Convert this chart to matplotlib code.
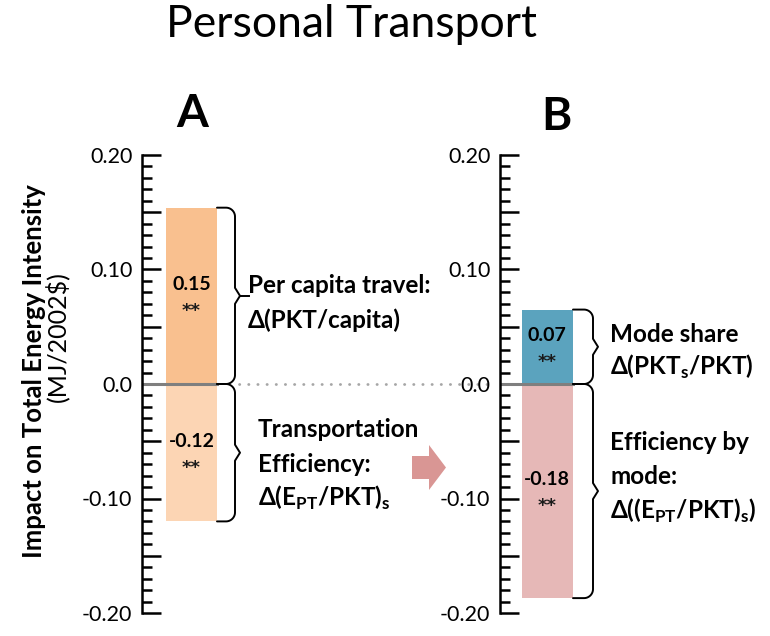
#!/usr/bin/env python3
import numpy as np
import matplotlib
matplotlib.use("Agg")
import matplotlib.pyplot as plt
from matplotlib.ticker import MultipleLocator, FuncFormatter
from matplotlib.patches import FancyArrow

plt.rcParams["font.family"] = ["Lato", "DejaVu Sans"]
plt.rcParams["mathtext.fontset"] = "custom"
plt.rcParams["mathtext.rm"] = "Lato"
plt.rcParams["mathtext.bf"] = "Lato:bold"

# -----------------------------
# Data
# -----------------------------
panel_names = ["A", "B"]
a_values = [0.154, -0.120]          # per capita travel, transport efficiency
a_labels = ["0.15", "-0.12"]
b_values = [0.065, -0.187]          # mode share, efficiency by mode
b_labels = ["0.07", "-0.18"]
a_colors = ["#F9C08F", "#FCD5B4"]
b_colors = ["#5BA3BE", "#E6B8B7"]
signif = ["**", "**"]

a_text = [["Per capita travel:", "Δ(PKT/capita)"],
          ["Transportation", "Efficiency:", r"Δ(E$_{\mathbf{PT}}$/PKT)$_{\mathbf{s}}$"]]
b_text = [["Mode share", r"Δ(PKT$_{\mathbf{s}}$/PKT)"],
          ["Efficiency by", "mode:", r"Δ((E$_{\mathbf{PT}}$/PKT)$_{\mathbf{s}}$)"]]

# -----------------------------
# Layout (pixels)
# -----------------------------
W, H = 770, 636
Y_TOP, Y_BOT = 155, 613
KY = 0.4 / (Y_BOT - Y_TOP)   # data units per pixel

fig = plt.figure(figsize=(W / 100, H / 100), dpi=100)


def fmt(v, _):
    if abs(v) < 1e-9:
        return "0.0"
    if abs(v * 10 - round(v * 10)) < 1e-6:
        return f"{v:.2f}"
    return ""


def make_axes(x_spine, x_right):
    ax = fig.add_axes([x_spine / W, (H - Y_BOT) / H,
                       (x_right - x_spine) / W, (Y_BOT - Y_TOP) / H])
    ax.set_xlim(0, x_right - x_spine)
    ax.set_ylim(-0.2, 0.2)
    for s in ["top", "right", "bottom"]:
        ax.spines[s].set_visible(False)
    ax.spines["left"].set_linewidth(1.8)
    ax.set_xticks([])
    ax.yaxis.set_major_locator(MultipleLocator(0.05))
    ax.yaxis.set_minor_locator(MultipleLocator(0.01))
    ax.yaxis.set_major_formatter(FuncFormatter(fmt))
    ax.tick_params(axis="y", which="major", direction="in", length=14,
                   width=1.8, labelsize=15.5, pad=7)
    ax.tick_params(axis="y", which="minor", direction="in", length=7,
                   width=1.8)
    ax.patch.set_alpha(0)
    return ax


def brace(ax, x0, xv, ytop, ybot, r=9, tip=5, stub=0):
    ym = (ytop + ybot) / 2
    t = np.linspace(0, np.pi / 2, 20)
    xs, ys = [x0], [ytop]
    # top corner
    xs += list(xv - r + r * np.sin(t)); ys += list(ytop - r * KY + r * KY * np.cos(t))
    # vertical, then a small point at the middle
    xs += [xv]; ys += [ym + tip * 1.6 * KY]
    xs += [xv + tip]; ys += [ym]
    xs += [xv]; ys += [ym - tip * 1.6 * KY]
    # bottom corner
    xs += list(xv - r + r * np.cos(t)); ys += list(ybot + r * KY - r * KY * np.sin(t))
    xs += [x0]; ys += [ybot]
    ax.plot(xs, ys, color="black", lw=1.4, solid_joinstyle="round",
            solid_capstyle="round", clip_on=False)
    if stub:
        ax.plot([xv + tip, xv + tip + stub], [ym, ym], color="black", lw=1.4, clip_on=False)


def draw_panel(ax, values, labels, colors, bar_x, bar_w):
    ax.bar([bar_x] * len(values), values, width=bar_w, color=colors, zorder=1)
    ax.plot([0, bar_x + bar_w / 2], [0, 0], color="#7F7F7F", lw=2.2, zorder=2)
    for v, lab, sg in zip(values, labels, signif):
        ax.annotate(lab, (bar_x, v / 2), xytext=(0, 8), textcoords="offset points",
                    ha="center", va="center", fontsize=14, fontweight="bold")
        ax.annotate(sg, (bar_x, v / 2), xytext=(0, -11), textcoords="offset points",
                    ha="center", va="center", fontsize=13, family="DejaVu Sans",
                    fontweight="bold", color="#1a1a1a")


axA = make_axes(142, 420)
axB = make_axes(500, 770)

draw_panel(axA, a_values, a_labels, a_colors, 49.5, 51)
draw_panel(axB, b_values, b_labels, b_colors, 47, 51)

brace(axA, 75, 93, a_values[0], 0, stub=9)
brace(axA, 75, 93, 0, a_values[1])
brace(axB, 73, 93, b_values[0], 0)
brace(axB, 73, 93, 0, b_values[1])

# dotted connector at zero
axA.plot([97, 346], [0, 0], color="#A6A6A6", lw=2, dashes=(0.1, 3.2),
         dash_capstyle="round", clip_on=False)

# -----------------------------
# Overlay in pixel coordinates
# -----------------------------
ov = fig.add_axes([0, 0, 1, 1])
ov.set_xlim(0, W)
ov.set_ylim(H, 0)
ov.set_axis_off()
ov.patch.set_alpha(0)

ov.text(352, 37, "Personal Transport", ha="center", va="baseline", fontsize=32)
ov.text(192, 127, "A", ha="center", va="baseline", fontsize=33, fontweight="bold")
ov.text(556, 130, "B", ha="center", va="baseline", fontsize=33, fontweight="bold")

ov.text(34, 371, "Impact on Total Energy Intensity", rotation=90, ha="center",
        va="center", fontsize=18.5, fontweight="bold")
ov.text(57, 337, "(MJ/2002$)", rotation=90, ha="center", va="center", fontsize=18)

def text_block(x, y0, lines, dy=34.5):
    for i, s in enumerate(lines):
        ov.text(x, y0 + i * dy, s, ha="left", va="baseline", fontsize=17.5,
                fontweight="bold")

text_block(248, 293, a_text[0])
text_block(258, 437, a_text[1])
text_block(610, 342, b_text[0], dy=33)
text_block(610, 450, b_text[1])

ov.add_patch(FancyArrow(412, 467.5, 34, 0, width=23, head_width=45,
                        head_length=17, length_includes_head=True,
                        color="#D99694", lw=0))

fig.savefig("out.png", dpi=100)
